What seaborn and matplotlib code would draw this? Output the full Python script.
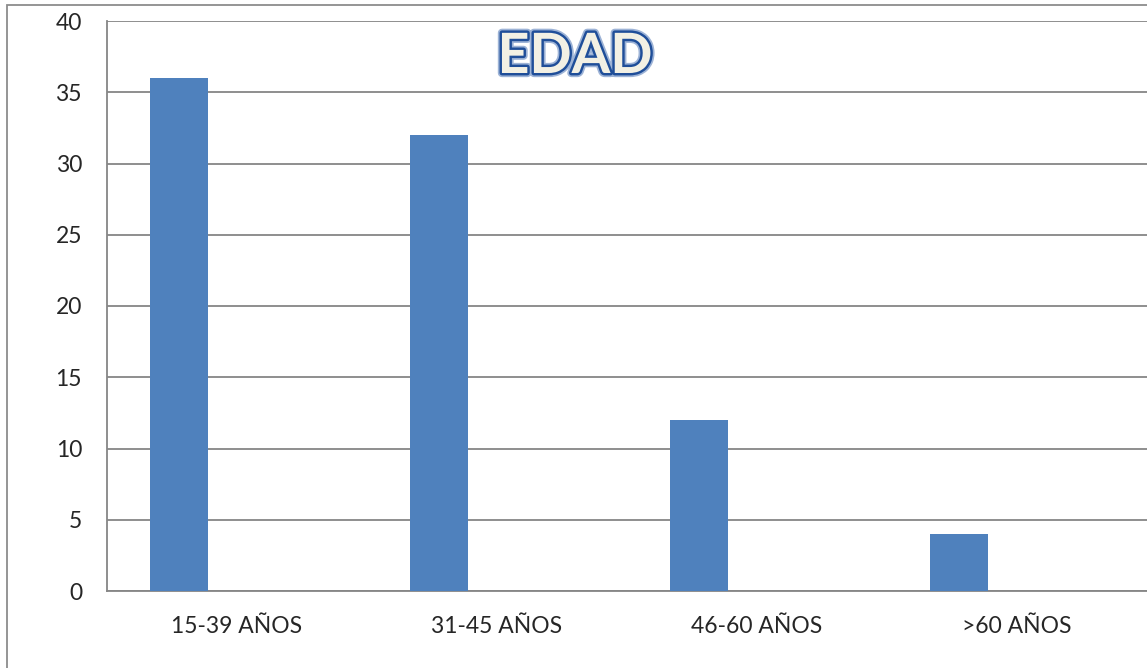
import numpy as np
import pandas as pd
import matplotlib
matplotlib.use("Agg")
import matplotlib.pyplot as plt
import matplotlib.patheffects as pe
from matplotlib.patches import Rectangle
import seaborn as sns

# data
categories = ["15-39 AÑOS", "31-45 AÑOS", "46-60 AÑOS", ">60 AÑOS"]
values = [36, 32, 12, 4]
series = ["Serie1"] * 4
series_order = ["Serie1", "Serie2"]  # second series is empty in the original
y_ticks = [0, 5, 10, 15, 20, 25, 30, 35, 40]

df = pd.DataFrame({"Edad": categories, "Cantidad": values, "Serie": series})

sns.set_style("white")
plt.rcParams["font.family"] = ["Lato", "DejaVu Sans"]

fig = plt.figure(figsize=(11.47, 6.68), dpi=100)
ax = fig.add_axes([107 / 1147, 1 - 591 / 668, 1 - 107 / 1147, (591 - 21) / 668])

sns.barplot(data=df, x="Edad", y="Cantidad", hue="Serie", hue_order=series_order,
            palette=["#4F81BD", "#C0504D"], width=0.892, gap=0.5, dodge=True,
            saturation=1, legend=False, linewidth=0, ax=ax, zorder=3)

ax.set_xlim(-0.5, len(categories) - 0.5)
ax.set_ylim(0, 40)
ax.set_yticks(y_ticks)
ax.yaxis.grid(True, color="#868686", linewidth=1.3, zorder=0)
ax.set_axisbelow(True)
ax.set_xlabel("")
ax.set_ylabel("")

for s in ["top", "right"]:
    ax.spines[s].set_visible(False)
for s in ["left", "bottom"]:
    ax.spines[s].set_color("#868686")
    ax.spines[s].set_linewidth(1.3)

ax.tick_params(axis="y", length=5, width=1.3, color="#868686", pad=13, labelsize=16.5)
ax.set_xticks(np.arange(len(categories)))
ax.set_xticklabels(categories)
ax.tick_params(axis="x", which="major", length=0, pad=18, labelsize=16.5)
ax.set_xticks(np.arange(len(categories) + 1) - 0.5, minor=True)
ax.tick_params(axis="x", which="minor", length=5, width=1.3, color="#868686")

# outer chart border
fig.patches.append(Rectangle((7 / 1147, -0.1), 1.2, 1.1 - 5 / 668, transform=fig.transFigure,
                             fill=False, edgecolor="#8C8C8C", linewidth=1.3, zorder=0))

fig.text(575 / 1147, 1 - 57 / 668, "EDAD", ha="center", va="center",
         fontsize=40, fontweight="bold", color="#F2F0E4",
         path_effects=[pe.withStroke(linewidth=6, foreground="#9DB3D6"),
                       pe.withStroke(linewidth=3.5, foreground="#1F4E99")])

fig.savefig("out.png", dpi=100)
